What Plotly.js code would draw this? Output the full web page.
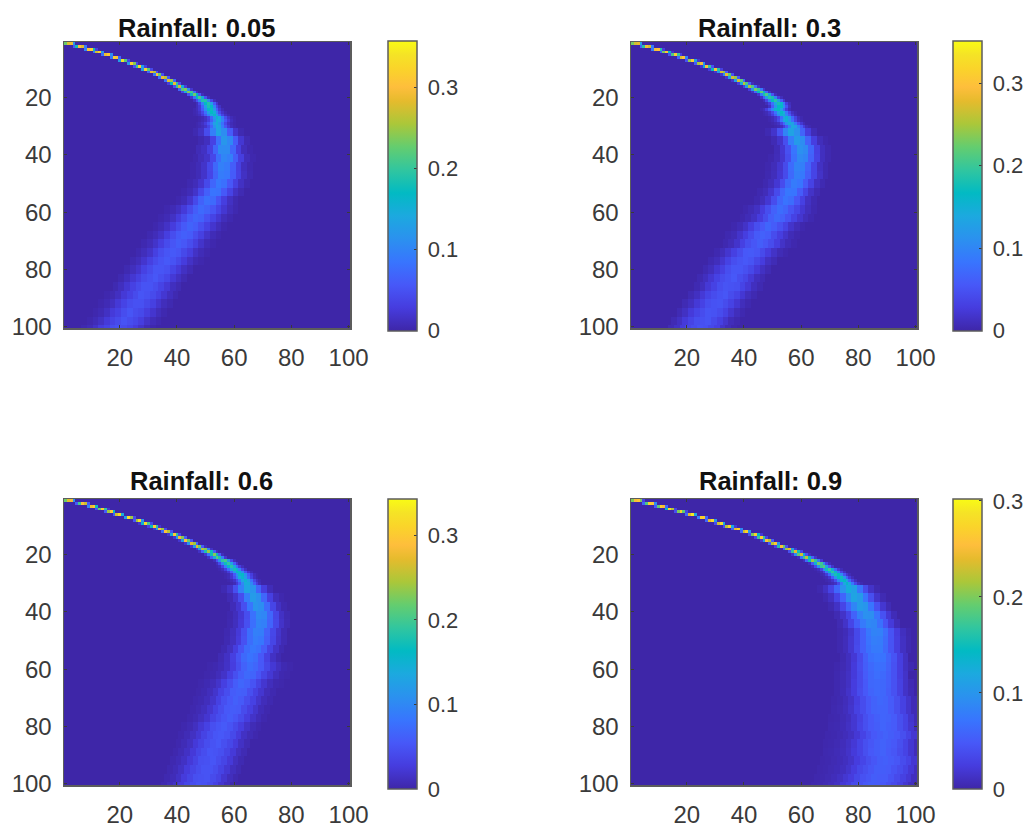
<!DOCTYPE html>
<html><head><meta charset="utf-8">
<script src="https://cdn.plot.ly/plotly-3.0.1.min.js"></script>
<style>html,body{margin:0;padding:0;background:#fff}#g{width:1031px;height:829px}</style>
</head><body><div id="g"></div>
<script>
const titles=["Rainfall: 0.05","Rainfall: 0.3","Rainfall: 0.6","Rainfall: 0.9"];
const zmaxes=[0.358,0.3515,0.343,0.302];
const axisTicks=[20,40,60,80,100];
const barTicks=[0,0.1,0.2,0.3];
// each row: [row, first column, values in thousandths]; "top" = single cells, "low" = 3-row x 2-column patches
const top05=[[1,1,230,280,290,120],[2,4,60,180,300,280,90],[3,8,100,310,320,180,30],[4,11,90,270,320,120],[5,14,80,290,310,110],[6,17,90,320,310,70],[7,20,130,340,220,40],[8,23,120,320,240,40],[9,25,50,200,330,130,30],[10,28,130,320,220,40],[11,30,70,290,260,50],[12,32,90,300,230,50],[13,34,80,290,260,60],[14,36,80,280,250,70],[15,37,30,170,290,200,50],[16,39,50,200,270,150,30],[17,41,70,220,240,110,20],[18,42,40,140,240,210,80,15],[19,44,50,160,230,170,60,10],[20,45,20,80,170,210,150,50,10],[21,46,15,50,110,190,190,110,40,10],[22,47,10,40,100,170,190,130,60,20],[23,47,10,25,70,130,185,170,100,40,15],[24,46,4,10,25,60,110,165,175,125,65,25,8],[25,46,4,8,18,40,80,130,170,150,95,45,18,6],[26,46,3,6,12,28,58,100,145,165,125,75,35,14,5],[27,48,3,7,16,34,72,120,160,142,90,46,20,8,3],[28,48,3,8,15,30,62,108,150,142,100,58,28,12,4],[29,47,3,8,14,28,52,90,132,150,122,80,42,18,8,3],[30,47,3,6,10,18,36,72,115,145,132,92,54,26,10,4]];
const low05=[[31,46,5,15,45,95,135,110,60,20,5],[34,48,5,12,35,80,120,105,60,22,6],[37,47,8,14,32,70,108,108,70,30,10,3],[40,46,3,10,18,40,78,102,95,62,30,10,3],[43,45,3,8,18,40,72,96,90,62,32,12,4],[46,45,3,8,18,38,68,92,88,60,34,14,5],[49,44,4,9,20,42,70,88,80,56,32,14,5],[52,42,3,8,18,40,64,84,82,58,36,16,6],[55,40,3,8,20,42,66,80,74,52,30,14,5],[58,36,3,7,14,26,44,62,74,68,54,38,22,10,4],[61,34,3,7,15,28,44,60,70,66,50,36,22,10,4],[64,32,3,8,16,28,44,58,68,62,48,34,20,10,3],[67,30,4,9,17,30,46,58,64,60,46,32,18,8,3],[70,28,4,9,18,30,44,54,62,56,46,32,18,8,3],[73,26,4,10,18,32,46,54,58,54,42,30,16,8,3],[76,24,5,10,20,32,44,52,58,52,42,28,16,7,3],[79,22,5,11,20,34,44,54,54,50,38,26,14,7],[82,20,5,12,22,32,44,50,56,48,40,24,14,6],[85,18,5,12,22,34,44,52,52,46,36,24,12,6],[88,15,3,6,13,24,34,44,54,50,44,34,22,12,5],[91,13,3,7,13,24,36,46,50,50,42,32,20,10,5],[94,11,3,7,14,26,34,46,54,46,42,30,20,10,4],[97,9,3,8,15,26,36,44,52,46,40,30,18,9,4],[100,7,4,8,16,28,36,46,50,44,38,28,18,8,3]];
const top30=[[1,1,230,270,280,130],[2,4,70,190,290,270,90],[3,8,90,290,300,190,30],[4,11,60,230,300,170,20],[5,14,50,210,310,200,30],[6,17,70,270,300,100],[7,20,50,240,310,130,20],[8,23,60,250,290,110],[9,25,20,150,300,200,50],[10,28,30,170,300,190,30],[11,30,20,120,270,240,60],[12,32,20,110,280,220,50],[13,34,20,130,270,240,60],[14,36,20,130,270,220,70],[15,38,30,140,260,210,70,10],[16,40,30,130,250,210,80,15],[17,42,30,120,230,200,90,20],[18,43,15,70,170,220,160,70,15],[19,45,20,90,180,210,140,50,10],[20,46,15,60,130,190,180,100,30,10],[21,47,10,40,100,170,190,130,60,20],[22,48,10,30,80,140,180,160,90,30,10],[23,49,15,60,115,165,165,110,50,15],[24,46,4,10,28,60,105,155,170,130,72,28,9],[25,47,4,8,18,42,82,130,165,140,88,42,14,5],[26,47,3,6,14,30,62,110,155,150,100,58,24,8],[27,49,3,8,18,38,78,128,155,118,70,34,12,4],[28,49,3,8,18,42,88,135,150,122,78,38,14,5],[29,50,3,7,14,36,72,116,145,130,88,48,22,8],[30,51,3,6,12,28,56,100,140,132,96,58,28,10,4]];
const low30=[[31,48,5,18,50,100,132,112,66,28,8],[34,50,6,18,46,92,122,108,66,30,10,3],[37,51,8,22,48,84,112,104,68,32,12,4],[40,49,3,9,20,44,80,104,98,64,34,12,4],[43,48,3,9,20,42,74,98,94,66,36,14,5],[46,48,4,10,22,42,72,94,88,62,36,16,5],[49,47,4,10,22,44,72,90,84,58,34,14,5],[52,45,4,9,20,42,68,86,84,60,36,16,6],[55,44,4,10,22,44,68,82,76,54,32,14,5],[58,40,3,7,14,28,46,64,76,68,52,38,22,11,4],[61,39,3,8,15,28,44,62,72,64,50,34,20,10,4],[64,36,3,8,16,30,46,56,68,60,48,34,18,9,3],[67,34,4,8,18,30,44,58,64,60,44,30,18,8,3],[70,33,4,9,18,32,46,54,62,54,44,30,16,8,3],[73,30,4,10,20,32,44,56,58,54,42,28,16,7,3],[76,28,5,10,20,34,46,52,56,52,40,28,14,7],[79,26,5,11,22,32,46,54,54,48,40,26,14,6],[82,24,5,12,22,34,44,50,56,46,38,24,12,6],[85,23,5,12,24,34,46,52,50,48,36,24,12,5],[88,21,6,13,24,36,44,50,54,44,36,22,11,5],[91,19,6,13,24,34,46,50,52,44,34,22,10,4],[94,17,6,14,26,36,44,52,50,44,34,20,10,4],[97,15,6,14,26,36,46,48,52,42,32,20,9,4],[100,14,7,15,26,38,44,50,48,40,32,18,9,3]];
const top60=[[1,1,220,270,280,110],[2,5,60,200,290,260,60],[3,9,100,280,300,170],[4,12,50,220,300,190,20],[5,15,60,240,300,160],[6,18,60,260,310,140],[7,22,120,320,240,40],[8,25,50,240,320,110],[9,27,20,150,310,200,40],[10,30,30,170,300,190,20],[11,32,20,130,290,240,40],[12,35,70,290,250,50],[13,37,20,140,300,190,40],[14,39,20,120,280,230,60],[15,41,20,120,290,220,50],[16,43,20,110,270,240,70],[17,45,20,120,270,220,60,10],[18,47,20,110,250,230,90,15],[19,48,15,70,180,240,170,60,10],[20,50,20,80,170,230,170,60,10],[21,51,15,60,140,210,180,90,20],[22,53,10,50,110,190,200,120,40,10],[23,54,10,40,100,170,190,130,60,20],[24,54,3,10,35,90,155,185,140,72,28,10],[25,55,3,10,30,75,135,175,155,95,42,14],[26,56,3,8,25,65,120,165,155,105,52,20,7],[27,57,3,7,22,55,105,155,160,110,62,28,10,3],[28,57,3,8,20,46,90,140,155,120,72,34,12,4],[29,58,3,8,17,42,85,130,150,125,78,38,15,5],[30,59,3,8,24,55,100,140,140,100,58,26,9]];
const low60=[[31,56,5,16,46,92,130,112,66,28,8],[34,58,6,18,44,88,120,108,68,30,10,3],[37,59,8,20,46,82,112,106,72,36,14,4],[40,58,3,10,22,44,78,102,98,68,36,14,5],[43,58,4,11,24,46,76,96,92,66,38,16,6],[46,57,4,11,24,46,74,92,90,64,38,18,6],[49,57,5,12,26,48,74,88,84,60,36,16,6],[52,56,5,13,28,50,72,84,78,58,34,16,5],[55,55,6,14,30,50,70,80,74,54,32,14,5],[58,51,2,4,8,15,28,46,64,74,68,54,38,22,12,5,2],[61,50,2,4,9,16,30,46,60,70,66,52,36,22,11,4,2],[64,48,2,5,9,17,30,44,58,68,62,50,34,20,10,4,2],[67,47,2,5,10,18,32,44,58,62,60,46,32,20,9,4],[70,46,3,5,10,18,32,46,54,62,56,44,32,18,9,4],[73,45,3,6,11,20,32,44,54,58,56,42,30,18,8,3],[76,44,3,6,12,20,34,44,52,58,52,42,28,16,8,3],[79,42,3,6,12,22,32,46,52,56,50,40,28,16,7,3],[82,41,3,7,13,22,34,44,52,54,50,40,26,14,7,3],[85,40,3,7,13,24,34,44,50,54,46,38,26,14,6],[88,39,3,7,14,24,36,44,52,50,46,36,24,12,6],[91,38,4,8,14,24,34,46,48,52,44,36,24,12,5],[94,37,4,8,15,26,36,44,50,50,44,34,22,11,5],[97,36,4,8,15,26,36,46,48,50,42,34,20,10,4],[100,35,4,9,16,26,38,44,50,48,42,32,20,10,4]];
const top90=[[1,1,200,250,260,200,30],[2,5,60,180,270,260,90],[3,9,50,190,270,250,60],[4,13,140,280,220,30],[5,16,40,200,270,190,30],[6,20,60,240,290,120],[7,24,80,270,270,60],[8,27,60,240,280,100],[9,30,40,230,280,120],[10,33,40,220,270,120,20],[11,36,60,240,270,90],[12,39,60,230,270,100],[13,42,40,200,270,140,20],[14,44,30,170,270,170,30],[15,46,20,110,260,220,50],[16,49,50,220,260,100],[17,51,30,160,250,190,40],[18,54,60,210,240,110,20],[19,56,40,170,240,150,30],[20,57,15,90,190,230,130,40,10],[21,59,10,70,170,220,150,60,15],[22,61,10,60,150,210,170,80,20],[23,63,10,50,130,195,175,95,30,8],[24,64,8,35,100,170,185,120,50,15],[25,65,3,10,32,90,150,175,130,62,22,7],[26,66,3,8,26,75,135,165,135,78,32,12],[27,67,3,7,22,60,115,155,145,92,44,17,6],[28,68,3,6,18,50,100,145,150,102,54,22,8],[29,69,3,6,16,40,85,135,145,112,64,28,10],[30,70,3,6,13,35,75,120,140,118,74,34,12,4]];
const low90=[[31,66,3,12,30,60,98,125,112,72,36,14,4],[34,68,4,12,30,58,92,115,106,72,40,16,5],[37,70,4,13,32,58,86,106,100,72,42,18,6],[40,72,5,14,30,56,82,96,94,70,42,20,7],[43,73,5,14,32,54,76,88,86,68,44,22,8],[46,73,3,7,16,34,54,74,84,82,66,44,24,10,3],[49,73,3,8,18,34,54,70,80,78,64,44,26,12,4],[52,73,3,8,18,36,54,68,76,76,62,44,26,12,4],[55,74,4,10,20,36,54,68,72,70,58,44,26,12],[58,72,2,5,10,22,38,52,62,68,66,56,42,26,12,4],[61,72,3,6,12,22,36,50,60,66,62,54,42,26,14],[64,72,3,6,12,24,36,48,60,62,60,54,42,28,14,5],[67,72,3,7,14,24,38,48,58,62,60,52,42,28,14,6],[70,71,2,4,8,14,26,38,48,56,60,58,50,40,28,16,6],[73,71,3,5,9,16,28,38,48,56,58,58,50,40,28,16,6],[76,70,2,3,6,10,18,28,40,48,54,58,56,50,40,30,16,6],[79,70,3,4,7,12,18,30,40,48,52,58,54,50,40,30,18,8],[82,69,2,3,5,8,12,20,30,40,48,52,56,52,48,40,30,18,8],[85,68,2,3,5,8,13,20,30,40,46,52,56,52,48,40,30,18,8],[88,68,3,4,6,9,14,22,30,40,48,52,56,50,46,38,30,18,8],[91,67,2,3,5,7,10,15,24,32,40,46,52,54,50,46,38,30,18,8],[94,66,2,3,5,7,10,16,24,34,40,46,52,52,50,44,38,30,20,10],[97,65,2,3,5,8,12,18,24,34,42,46,52,50,50,44,36,28,20,10],[100,64,2,3,5,8,12,20,26,36,42,48,52,50,48,42,36,28,18,10]];
const tops=[top05,top30,top60,top90], lows=[low05,low30,low60,low90];

const parula=[[0,'#3e26a8'],[0.0794,'#463cde'],[0.1587,'#4758f8'],[0.2381,'#3875fe'],[0.3175,'#2b91ef'],[0.3968,'#1ca9df'],[0.4762,'#02bac3'],[0.5556,'#31c69f'],[0.6349,'#64cd6f'],[0.7143,'#abc739'],[0.7937,'#e6bb2d'],[0.8413,'#febe3c'],[0.9048,'#fad42a'],[0.9524,'#f5e326'],[1,'#f9fb15']];

const W=1031,H=829;
const boxes=[{l:64,r:350,t:42,b:328,cl:387.5,ct:41,cb:330.7,tx:196},
             {l:631,r:917,t:42,b:328,cl:953,ct:41,cb:330.7,tx:769},
             {l:64,r:350,t:499,b:785,cl:387.5,ct:499.5,cb:789,tx:201},
             {l:631,r:917,t:499,b:785,cl:953,ct:499.5,cb:789,tx:770}];
const titleY=[28,28,481,481];

function buildZ(top,low){
  const z=[];for(let r=0;r<100;r++)z.push(new Array(100).fill(0));
  top.forEach(e=>{for(let i=2;i<e.length;i++){const c=e[1]-1+i-2;if(c<100)z[e[0]-1][c]=e[i]/1000;}});
  low.forEach(e=>{for(let i=2;i<e.length;i++)for(let rr=0;rr<3;rr++)for(let cc=0;cc<2;cc++){
    const r=e[0]-1+rr,c=e[1]-1+2*(i-2)+cc;if(r<100&&c<100)z[r][c]=e[i]/1000;}});
  return z;
}
const cells=[];for(let i=1;i<=100;i++)cells.push(i);
const frame='#5c5c5c',ink='#3a3a3a';
const data=[],layout={width:W,height:H,margin:{l:0,r:0,t:0,b:0},paper_bgcolor:'#fff',plot_bgcolor:'#3e26a8',showlegend:false,annotations:[],
  font:{family:'"Liberation Sans",Arial,sans-serif',color:ink}};
boxes.forEach((b,k)=>{
  const n=k?String(k+1):'';
  data.push({type:'heatmap',x:cells,y:cells,z:buildZ(tops[k],lows[k]),xaxis:'x'+n,yaxis:'y'+n,zmin:0,zmax:zmaxes[k],zsmooth:false,colorscale:parula,hoverinfo:'skip',
    colorbar:{x:b.cl/W,xanchor:'left',xpad:0,ypad:0,y:1-b.cb/H,yanchor:'bottom',len:(b.cb-b.ct)/H,lenmode:'fraction',thickness:29,thicknessmode:'pixels',
      outlinecolor:frame,outlinewidth:1.5,borderwidth:0,tickmode:'array',tickvals:barTicks,ticktext:barTicks.map(String),ticks:'inside',ticklen:3,tickcolor:ink,tickwidth:1,
      tickfont:{size:22,color:ink,family:'"Liberation Sans",Arial,sans-serif'}}});
  layout['xaxis'+n]={domain:[b.l/W,b.r/W],range:[0.5,100.5],anchor:'y'+n,tickmode:'array',tickvals:axisTicks,ticks:'inside',ticklen:3,tickcolor:ink,
    showline:true,mirror:'ticks',linecolor:frame,linewidth:1.5,showgrid:false,zeroline:false,tickfont:{size:24,color:ink},ticklabelstandoff:8};
  layout['yaxis'+n]={domain:[1-b.b/H,1-b.t/H],range:[100.5,0.5],anchor:'x'+n,tickmode:'array',tickvals:axisTicks,ticks:'inside',ticklen:3,tickcolor:ink,
    showline:true,mirror:'ticks',linecolor:frame,linewidth:1.5,showgrid:false,zeroline:false,tickfont:{size:24,color:ink},ticklabelstandoff:6};
  layout.annotations.push({text:'<b>'+titles[k]+'</b>',xref:'paper',yref:'paper',x:b.tx/W,y:1-titleY[k]/H,xanchor:'center',yanchor:'middle',showarrow:false,
    font:{size:25.5,color:'#111',family:'"Liberation Sans",Arial,sans-serif'}});
});
Plotly.newPlot('g',data,layout,{displayModeBar:false,staticPlot:true}).then(gd=>{
  gd.querySelectorAll('.colorbar .ytick text, .colorbar .cbaxis text').forEach(t=>t.setAttribute('dx','5'));
  gd.querySelectorAll('.heatmaplayer image, .hm image').forEach(im=>{im.style.filter='blur(0.75px)';});
});
</script></body></html>
